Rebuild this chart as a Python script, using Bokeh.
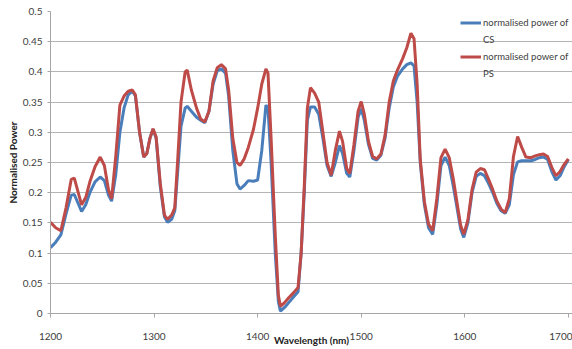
from bokeh.plotting import figure
from bokeh.models import Range1d, FixedTicker, Legend, LegendItem
from bokeh.embed import file_html
from bokeh.resources import INLINE

# ---- data ----
wavelength = [1200, 1205, 1210, 1215, 1220, 1223, 1226, 1230, 1234, 1238, 1243, 1248,
              1252, 1256, 1259, 1263, 1267, 1271, 1275, 1279, 1282, 1286, 1290, 1293,
              1296, 1299, 1302, 1306, 1310, 1313, 1317, 1320, 1323, 1326, 1330, 1332,
              1336, 1341, 1345, 1349, 1353, 1357, 1361, 1365, 1369, 1372, 1376, 1380,
              1383, 1387, 1391, 1396, 1400, 1404, 1408, 1410, 1413, 1417, 1420, 1422,
              1426, 1430, 1435, 1439, 1442, 1445, 1448, 1451, 1455, 1459, 1463, 1467,
              1471, 1475, 1479, 1482, 1486, 1489, 1493, 1497, 1500, 1503, 1507, 1511,
              1515, 1519, 1523, 1527, 1531, 1535, 1540, 1544, 1548, 1551, 1554, 1557,
              1561, 1565, 1569, 1573, 1577, 1581, 1585, 1589, 1593, 1596, 1599, 1603,
              1607, 1611, 1615, 1619, 1623, 1627, 1631, 1635, 1639, 1643, 1647, 1651,
              1655, 1659, 1664, 1668, 1672, 1676, 1680, 1684, 1688, 1692, 1696, 1700]

power_cs = [0.109, 0.118, 0.130, 0.165, 0.196, 0.197, 0.185, 0.169, 0.180, 0.200, 0.218, 0.226,
            0.220, 0.196, 0.186, 0.230, 0.300, 0.340, 0.362, 0.368, 0.360, 0.300, 0.259, 0.265,
            0.290, 0.305, 0.290, 0.210, 0.160, 0.151, 0.156, 0.170, 0.240, 0.310, 0.340, 0.343,
            0.335, 0.325, 0.320, 0.316, 0.335, 0.380, 0.402, 0.405, 0.398, 0.360, 0.270, 0.215,
            0.206, 0.212, 0.220, 0.219, 0.221, 0.270, 0.345, 0.340, 0.250, 0.100, 0.020, 0.004,
            0.010, 0.018, 0.028, 0.036, 0.100, 0.200, 0.320, 0.342, 0.342, 0.330, 0.290, 0.245,
            0.227, 0.250, 0.278, 0.265, 0.232, 0.226, 0.270, 0.325, 0.339, 0.320, 0.280, 0.257,
            0.254, 0.262, 0.290, 0.340, 0.375, 0.393, 0.405, 0.412, 0.415, 0.410, 0.350, 0.250,
            0.180, 0.142, 0.131, 0.180, 0.245, 0.259, 0.245, 0.210, 0.170, 0.140, 0.126, 0.150,
            0.200, 0.227, 0.232, 0.228, 0.215, 0.200, 0.182, 0.170, 0.166, 0.180, 0.230, 0.251,
            0.253, 0.253, 0.253, 0.255, 0.258, 0.259, 0.255, 0.235, 0.221, 0.228, 0.243, 0.255]

power_ps = [0.151, 0.142, 0.137, 0.175, 0.222, 0.224, 0.205, 0.180, 0.192, 0.218, 0.243, 0.259,
            0.245, 0.205, 0.190, 0.260, 0.345, 0.360, 0.368, 0.370, 0.362, 0.300, 0.259, 0.265,
            0.290, 0.306, 0.292, 0.215, 0.163, 0.156, 0.163, 0.175, 0.260, 0.350, 0.400, 0.403,
            0.370, 0.340, 0.322, 0.317, 0.335, 0.385, 0.407, 0.412, 0.405, 0.370, 0.290, 0.250,
            0.245, 0.256, 0.275, 0.305, 0.340, 0.380, 0.405, 0.398, 0.290, 0.130, 0.030, 0.012,
            0.018, 0.026, 0.035, 0.043, 0.100, 0.210, 0.340, 0.374, 0.365, 0.350, 0.300, 0.250,
            0.229, 0.270, 0.302, 0.285, 0.240, 0.232, 0.280, 0.335, 0.351, 0.330, 0.285, 0.260,
            0.256, 0.264, 0.295, 0.350, 0.385, 0.403, 0.422, 0.440, 0.464, 0.455, 0.380, 0.255,
            0.185, 0.148, 0.137, 0.190, 0.258, 0.272, 0.258, 0.222, 0.178, 0.146, 0.131, 0.155,
            0.205, 0.234, 0.240, 0.238, 0.222, 0.205, 0.186, 0.173, 0.167, 0.190, 0.260, 0.293,
            0.275, 0.259, 0.258, 0.261, 0.263, 0.264, 0.260, 0.242, 0.228, 0.235, 0.247, 0.256]

x_ticks = [1200, 1300, 1400, 1500, 1600, 1700]
y_ticks = [0, 0.05, 0.1, 0.15, 0.2, 0.25, 0.3, 0.35, 0.4, 0.45, 0.5]
y_tick_labels = ["0", "0.05", "0.1", "0.15", "0.2", "0.25", "0.3", "0.35", "0.4", "0.45", "0.5"]

# legend text as it wraps in the reference (two lines per series)
legend_lines_cs = ["normalised power of", "CS"]
legend_lines_ps = ["normalised power of", "PS"]
x_title = "Wavelength (nm)"
y_title = "Normalised Power"

FONT = "Lato"
TICK_COLOR = "#404040"
AXIS_COLOR = "#a6a6a6"

p = figure(width=572, height=349, output_backend="svg", toolbar_location=None,
           x_range=Range1d(1200, 1704), y_range=Range1d(0, 0.5),
           min_border_left=50, min_border_right=0, min_border_top=11, min_border_bottom=36)

p.background_fill_color = "white"
p.border_fill_color = "white"
p.outline_line_color = None
p.xgrid.visible = False
p.ygrid.grid_line_color = "#b4b4b4"
p.ygrid.grid_line_width = 1

p.xaxis.ticker = FixedTicker(ticks=x_ticks)
p.yaxis.ticker = FixedTicker(ticks=y_ticks)
p.yaxis.major_label_overrides = {v: s for v, s in zip(y_ticks, y_tick_labels)}

for ax in (p.xaxis, p.yaxis):
    ax.axis_line_color = AXIS_COLOR
    ax.major_tick_line_color = AXIS_COLOR
    ax.minor_tick_line_color = None
    ax.major_tick_in = 0
    ax.major_label_text_font = FONT
    ax.major_label_text_font_size = "10px"
    ax.major_label_text_color = TICK_COLOR
    ax.axis_label_text_font = FONT
    ax.axis_label_text_font_style = "bold"
    ax.axis_label_text_font_size = "10px"
    ax.axis_label_text_color = "#222222"

p.xaxis.major_tick_out = 4
p.xaxis.major_label_standoff = 15
p.xaxis.axis_label = x_title
p.xaxis.axis_label_standoff = -9

p.yaxis.major_tick_out = 3
p.yaxis.major_label_standoff = 5
p.yaxis.axis_label = y_title
p.yaxis.axis_label_standoff = 1

cs = p.line(wavelength, power_cs, line_color="#4a7ebb", line_width=3)
ps = p.line(wavelength, power_ps, line_color="#be4b48", line_width=3)
# empty, invisible renderer used only for the wrapped second line of each legend entry
blank = p.line(x=[], y=[], line_alpha=0)

legend = Legend(items=[LegendItem(label=legend_lines_cs[0], renderers=[cs]),
                       LegendItem(label=legend_lines_cs[1], renderers=[blank]),
                       LegendItem(label=legend_lines_ps[0], renderers=[ps]),
                       LegendItem(label=legend_lines_ps[1], renderers=[blank])],
                location=(410, 231), border_line_color=None, background_fill_alpha=0,
                label_text_font=FONT, label_text_font_size="9.5px", label_text_color=TICK_COLOR,
                glyph_width=21, glyph_height=17, label_height=17, label_standoff=2,
                padding=0, margin=0, spacing=0)
p.add_layout(legend)

open("out.html", "w").write(file_html(p, INLINE))
